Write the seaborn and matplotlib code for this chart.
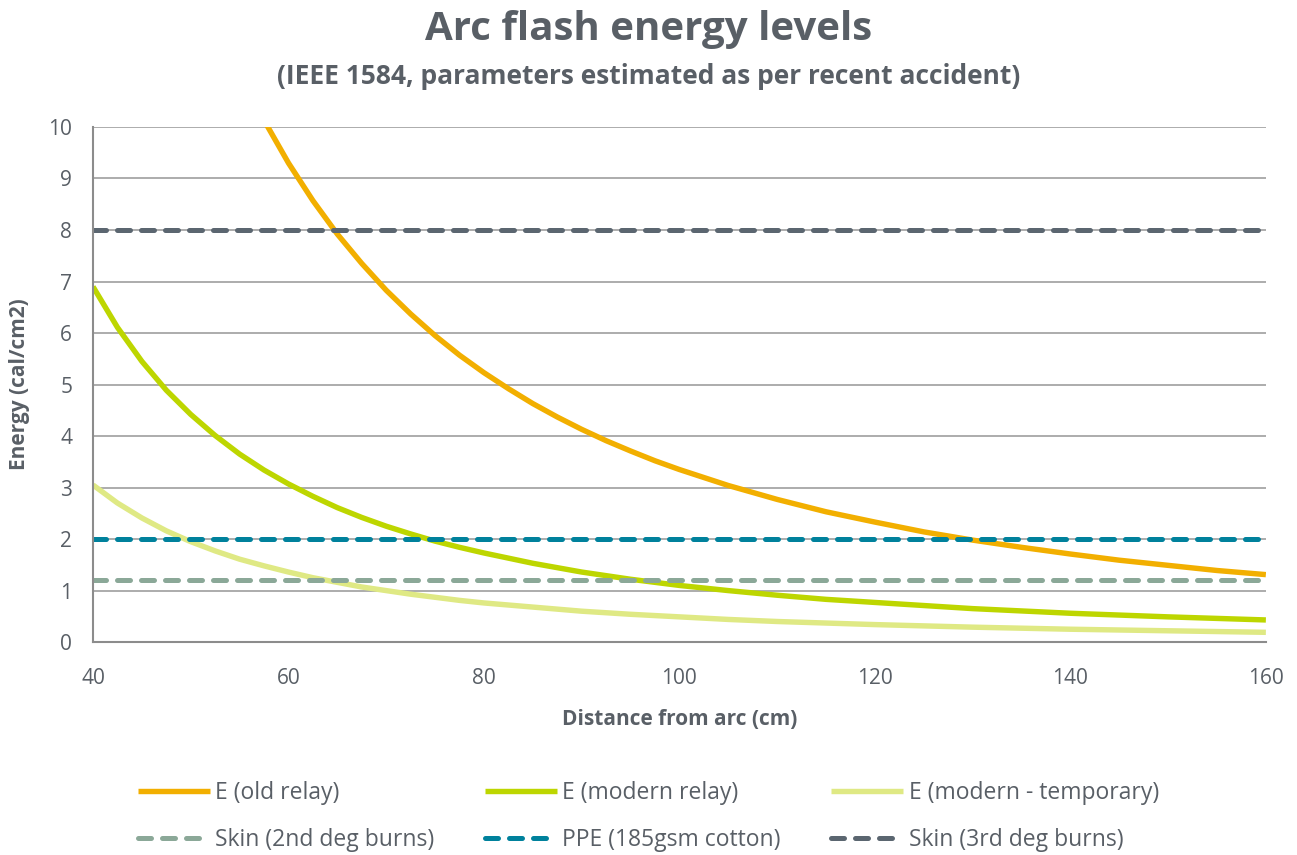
import matplotlib
matplotlib.use("Agg")
import matplotlib.pyplot as plt
import seaborn as sns
import pandas as pd

# ---- data ----
x_old = [57.5, 60, 62.5, 65, 67.5, 70, 72.5, 75, 77.5, 80, 82.5, 85, 87.5, 90, 92.5, 95, 97.5, 100,
         105, 110, 115, 120, 125, 130, 135, 140, 145, 150, 155, 160]
e_old = [10.13, 9.30, 8.57, 7.92, 7.35, 6.83, 6.37, 5.95, 5.57, 5.23, 4.92, 4.63, 4.37, 4.13, 3.91, 3.71, 3.52, 3.35,
         3.04, 2.77, 2.53, 2.33, 2.14, 1.98, 1.84, 1.71, 1.59, 1.49, 1.39, 1.31]

x_mod = [40, 42.5, 45, 47.5, 50, 52.5, 55, 57.5, 60, 62.5, 65, 67.5, 70, 72.5, 75, 77.5, 80,
         85, 90, 95, 100, 105, 110, 115, 120, 130, 140, 150, 160]
e_mod = [6.90, 6.11, 5.45, 4.89, 4.42, 4.01, 3.65, 3.34, 3.07, 2.83, 2.61, 2.42, 2.25, 2.10, 1.96, 1.84, 1.73,
         1.53, 1.36, 1.22, 1.10, 1.00, 0.91, 0.83, 0.77, 0.65, 0.56, 0.49, 0.43]

x_tmp = [40, 42.5, 45, 47.5, 50, 52.5, 55, 57.5, 60, 62.5, 65, 67.5, 70, 72.5, 75, 77.5, 80,
         85, 90, 95, 100, 105, 110, 115, 120, 130, 140, 150, 160]
e_tmp = [3.05, 2.70, 2.41, 2.16, 1.95, 1.77, 1.61, 1.48, 1.36, 1.25, 1.16, 1.07, 1.00, 0.93, 0.87, 0.81, 0.76,
         0.68, 0.60, 0.54, 0.49, 0.44, 0.40, 0.37, 0.34, 0.29, 0.25, 0.22, 0.19]

x_range = [40, 160]
skin2 = [1.2, 1.2]
ppe = [2.0, 2.0]
skin3 = [8.0, 8.0]

labels = ["E (old relay)", "E (modern relay)", "E (modern - temporary)",
          "Skin (2nd deg burns)", "PPE (185gsm cotton)", "Skin (3rd deg burns)"]
x_ticks = [40, 60, 80, 100, 120, 140, 160]
y_ticks = list(range(0, 11))

colors = ["#F2AF00", "#BDD600", "#DFE984", "#8BA898", "#00819C", "#5B6670"]
text_col = "#595F66"

sns.set_theme(style="white")
plt.rcParams["font.family"] = ["Open Sans", "DejaVu Sans"]

fig = plt.figure(figsize=(12.97, 8.55), dpi=100)
ax = fig.add_axes([0.0717, 0.249, 0.9043, 0.6025])

lw_curve = 3.9
lw_dash = 3.6
curves = [(x_old, e_old), (x_mod, e_mod), (x_tmp, e_tmp)]
for (xs, ys), c, lab in zip(curves, colors[:3], labels[:3]):
    df = pd.DataFrame({"x": xs, "y": ys})
    sns.lineplot(data=df, x="x", y="y", ax=ax, color=c, lw=lw_curve, label=lab,
                 solid_capstyle="butt", solid_joinstyle="round")
for ys, c, lab in zip([skin2, ppe, skin3], colors[3:], labels[3:]):
    df = pd.DataFrame({"x": x_range, "y": ys})
    sns.lineplot(data=df, x="x", y="y", ax=ax, color=c, lw=lw_dash, label=lab,
                 linestyle=(0, (2.6, 2.2)), dash_capstyle="round")

ax.set_xlim(40, 160)
ax.set_ylim(0, 10)
ax.set_xticks(x_ticks)
ax.set_yticks(y_ticks)
ax.grid(axis="y", color="#A6A6A6", lw=1.3)
ax.set_axisbelow(True)
for s in ["top", "right"]:
    ax.spines[s].set_visible(False)
for s in ["left", "bottom"]:
    ax.spines[s].set_color("#8C8C8C")
    ax.spines[s].set_linewidth(1.5)
ax.tick_params(axis="both", direction="out", length=7, width=1.5, color="#8C8C8C",
               labelsize=15, labelcolor=text_col, pad=8)
ax.tick_params(axis="x", pad=12)
ax.set_xlabel("Distance from arc (cm)", fontsize=15, fontweight="bold", color=text_col, labelpad=14)
ax.set_ylabel("Energy (cal/cm2)", fontsize=15, fontweight="bold", color=text_col, labelpad=13)

fig.text(0.5, 0.965, "Arc flash energy levels", ha="center", va="center",
         fontsize=29, fontweight="bold", color=text_col)
fig.text(0.5, 0.911, "(IEEE 1584, parameters estimated as per recent accident)", ha="center",
         va="center", fontsize=19, fontweight="bold", color=text_col)

h, l = ax.get_legend_handles_labels()
ax.get_legend().remove()
order = [0, 3, 1, 4, 2, 5]
leg = fig.legend([h[i] for i in order], [l[i] for i in order], ncol=3, loc="center",
                 bbox_to_anchor=(0.5, 0.045), frameon=False, fontsize=16.5,
                 handlelength=3.15, handletextpad=0.22, columnspacing=2.2, labelspacing=1.0)
for t in leg.get_texts():
    t.set_color(text_col)

fig.savefig("out.png", dpi=100)
